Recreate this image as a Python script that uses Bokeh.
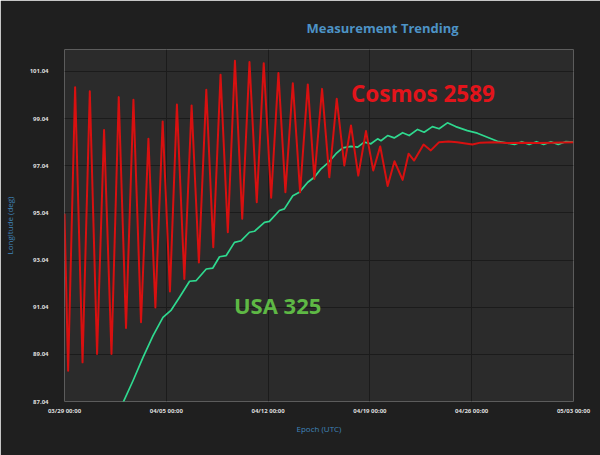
from datetime import datetime, timedelta
from bokeh.plotting import figure
from bokeh.models import FixedTicker, DatetimeTickFormatter, NumeralTickFormatter, Label, Range1d
from bokeh.embed import file_html
from bokeh.resources import INLINE

# ---- data (days since 03/29 00:00) ----
start_date = datetime(2019, 3, 29)
end_day = 35

red_days = [0.0, 0.25, 0.73, 1.24, 1.74, 2.24, 2.72, 3.23, 3.73, 4.23, 4.74, 5.26, 5.77, 6.25,
            6.75, 7.25, 7.73, 8.24, 8.74, 9.24, 9.75, 10.23, 10.73, 11.23, 11.72, 12.22, 12.72,
            13.22, 13.70, 14.21, 14.71, 15.19, 15.70, 16.20, 16.73, 17.18, 17.71, 18.21, 18.72,
            19.24, 19.70, 20.20, 20.73, 21.23, 21.71, 22.22, 22.69, 23.25, 23.66, 24.04, 24.69,
            25.19, 25.76, 26.4, 27.0, 28.05, 28.6, 29.5, 30.5, 31.5, 32.5, 33.5, 35.0]
red_vals = [95.0, 88.34, 100.37, 88.70, 100.2, 89.06, 98.56, 89.06, 99.95, 90.16, 99.84, 90.40,
            98.18, 91.03, 98.92, 91.71, 99.64, 92.24, 99.60, 92.94, 100.26, 93.58, 100.90, 94.22,
            101.49, 94.79, 101.44, 95.49, 101.39, 95.68, 100.97, 95.92, 100.54, 95.92, 100.49,
            96.48, 100.30, 96.55, 99.88, 97.05, 98.75, 96.62, 98.51, 96.84, 97.86, 96.18, 97.23,
            96.44, 97.55, 97.26, 97.94, 97.69, 98.04, 98.07, 98.04, 97.94, 98.02, 98.04, 98.0,
            98.02, 98.0, 98.02, 98.04]

green_days = [4.03, 4.71, 5.40, 6.09, 6.77, 7.34, 7.91, 8.60, 9.06, 9.75, 10.20, 10.66, 11.12,
              11.69, 12.15, 12.72, 13.06, 13.75, 14.09, 14.78, 15.12, 15.70, 16.15, 16.73, 17.18,
              17.64, 18.10, 18.67, 19.13, 19.70, 20.16, 20.61, 21.07, 21.53, 21.76, 22.22, 22.67,
              23.25, 23.70, 24.28, 24.73, 25.30, 25.76, 26.33, 26.90, 27.70, 28.39, 29.08, 29.77,
              30.45, 30.95, 31.45, 31.95, 32.45, 32.95, 33.45, 33.95, 34.45, 35.0]
green_vals = [87.0, 87.92, 88.91, 89.83, 90.61, 90.92, 91.46, 92.14, 92.17, 92.66, 92.70, 93.18,
              93.23, 93.79, 93.86, 94.22, 94.26, 94.64, 94.68, 95.14, 95.21, 95.77, 95.92, 96.34,
              96.55, 96.91, 97.15, 97.55, 97.80, 97.86, 97.83, 98.04, 97.97, 98.18, 98.10, 98.32,
              98.22, 98.44, 98.32, 98.58, 98.46, 98.70, 98.61, 98.86, 98.70, 98.53, 98.42, 98.25,
              98.08, 98.0, 97.94, 98.06, 97.94, 98.06, 97.94, 98.06, 97.94, 98.06, 98.04]

y_ticks = [87.04, 89.04, 91.04, 93.04, 95.04, 97.04, 99.04, 101.04]
x_tick_days = [0, 7, 14, 21, 28, 35]

to_dt = lambda d: start_date + timedelta(days=d)
red_x = [to_dt(d) for d in red_days]
green_x = [to_dt(d) for d in green_days]
x_ticks_ms = [(to_dt(d) - datetime(1970, 1, 1)).total_seconds() * 1000 for d in x_tick_days]

FONT = "Open Sans"

p = figure(width=600, height=455, x_axis_type="datetime",
           output_backend="svg", toolbar_location=None,
           title="Measurement Trending",
           min_border_left=63, min_border_right=27, min_border_top=49, min_border_bottom=54,
           x_range=Range1d(to_dt(0), to_dt(end_day)), y_range=Range1d(87.04, 101.97))

p.background_fill_color = "#2b2b2b"
p.border_fill_color = "#1f1f1f"
p.outline_line_color = None

p.title.align = "left"
p.title.offset = 242
p.title.standoff = 25
p.title.text_color = "#4d93c6"
p.title.text_font = FONT
p.title.text_font_size = "13px"
p.title.text_font_style = "bold"

for ax in (p.xaxis[0], p.yaxis[0]):
    ax.axis_line_color = None
    ax.major_tick_line_color = None
    ax.minor_tick_line_color = None
    ax.major_tick_out = 0
    ax.major_tick_in = 0
    ax.minor_tick_out = 0
    ax.minor_tick_in = 0
    ax.major_label_text_color = "#dedede"
    ax.major_label_text_font = FONT
    ax.major_label_text_font_size = "6px"
    ax.major_label_text_font_style = "bold"
    ax.axis_label_text_color = "#3f84ba"
    ax.axis_label_text_font = FONT
    ax.axis_label_text_font_size = "8px"
    ax.axis_label_text_font_style = "normal"

p.yaxis.ticker = FixedTicker(ticks=y_ticks)
p.yaxis.formatter = NumeralTickFormatter(format="0.00")
p.yaxis.axis_label = "Longitude (deg)"
p.yaxis.major_label_standoff = 16
p.yaxis.axis_label_standoff = 12

p.xaxis.ticker = FixedTicker(ticks=x_ticks_ms)
p.xaxis.formatter = DatetimeTickFormatter(days="%m/%d %H:%M", months="%m/%d %H:%M",
                                          hours="%m/%d %H:%M")
p.xaxis.axis_label = "Epoch (UTC)"
p.xaxis.major_label_standoff = 5
p.xaxis.axis_label_standoff = 5

p.xgrid.grid_line_color = "#1b1b1b"
p.ygrid.grid_line_color = "#1b1b1b"
p.xgrid.ticker = FixedTicker(ticks=x_ticks_ms)
p.ygrid.ticker = FixedTicker(ticks=y_ticks)

p.line(green_x, green_vals, line_color="#2fd98f", line_width=1.7, line_join="round")
p.line(red_x, red_vals, line_color="#d81010", line_width=2.0, line_join="round")

p.add_layout(Label(x=to_dt(19.70), y=100.11, text="Cosmos 2589", text_color="#e3141b",
                   text_font=FONT, text_font_style="bold", text_font_size="22.5px",
                   text_baseline="alphabetic"))
p.add_layout(Label(x=to_dt(11.65), y=91.13, text="USA 325", text_color="#5eb845",
                   text_font=FONT, text_font_style="bold", text_font_size="22px",
                   text_baseline="alphabetic"))

open("out.html", "w").write(file_html(p, INLINE))
